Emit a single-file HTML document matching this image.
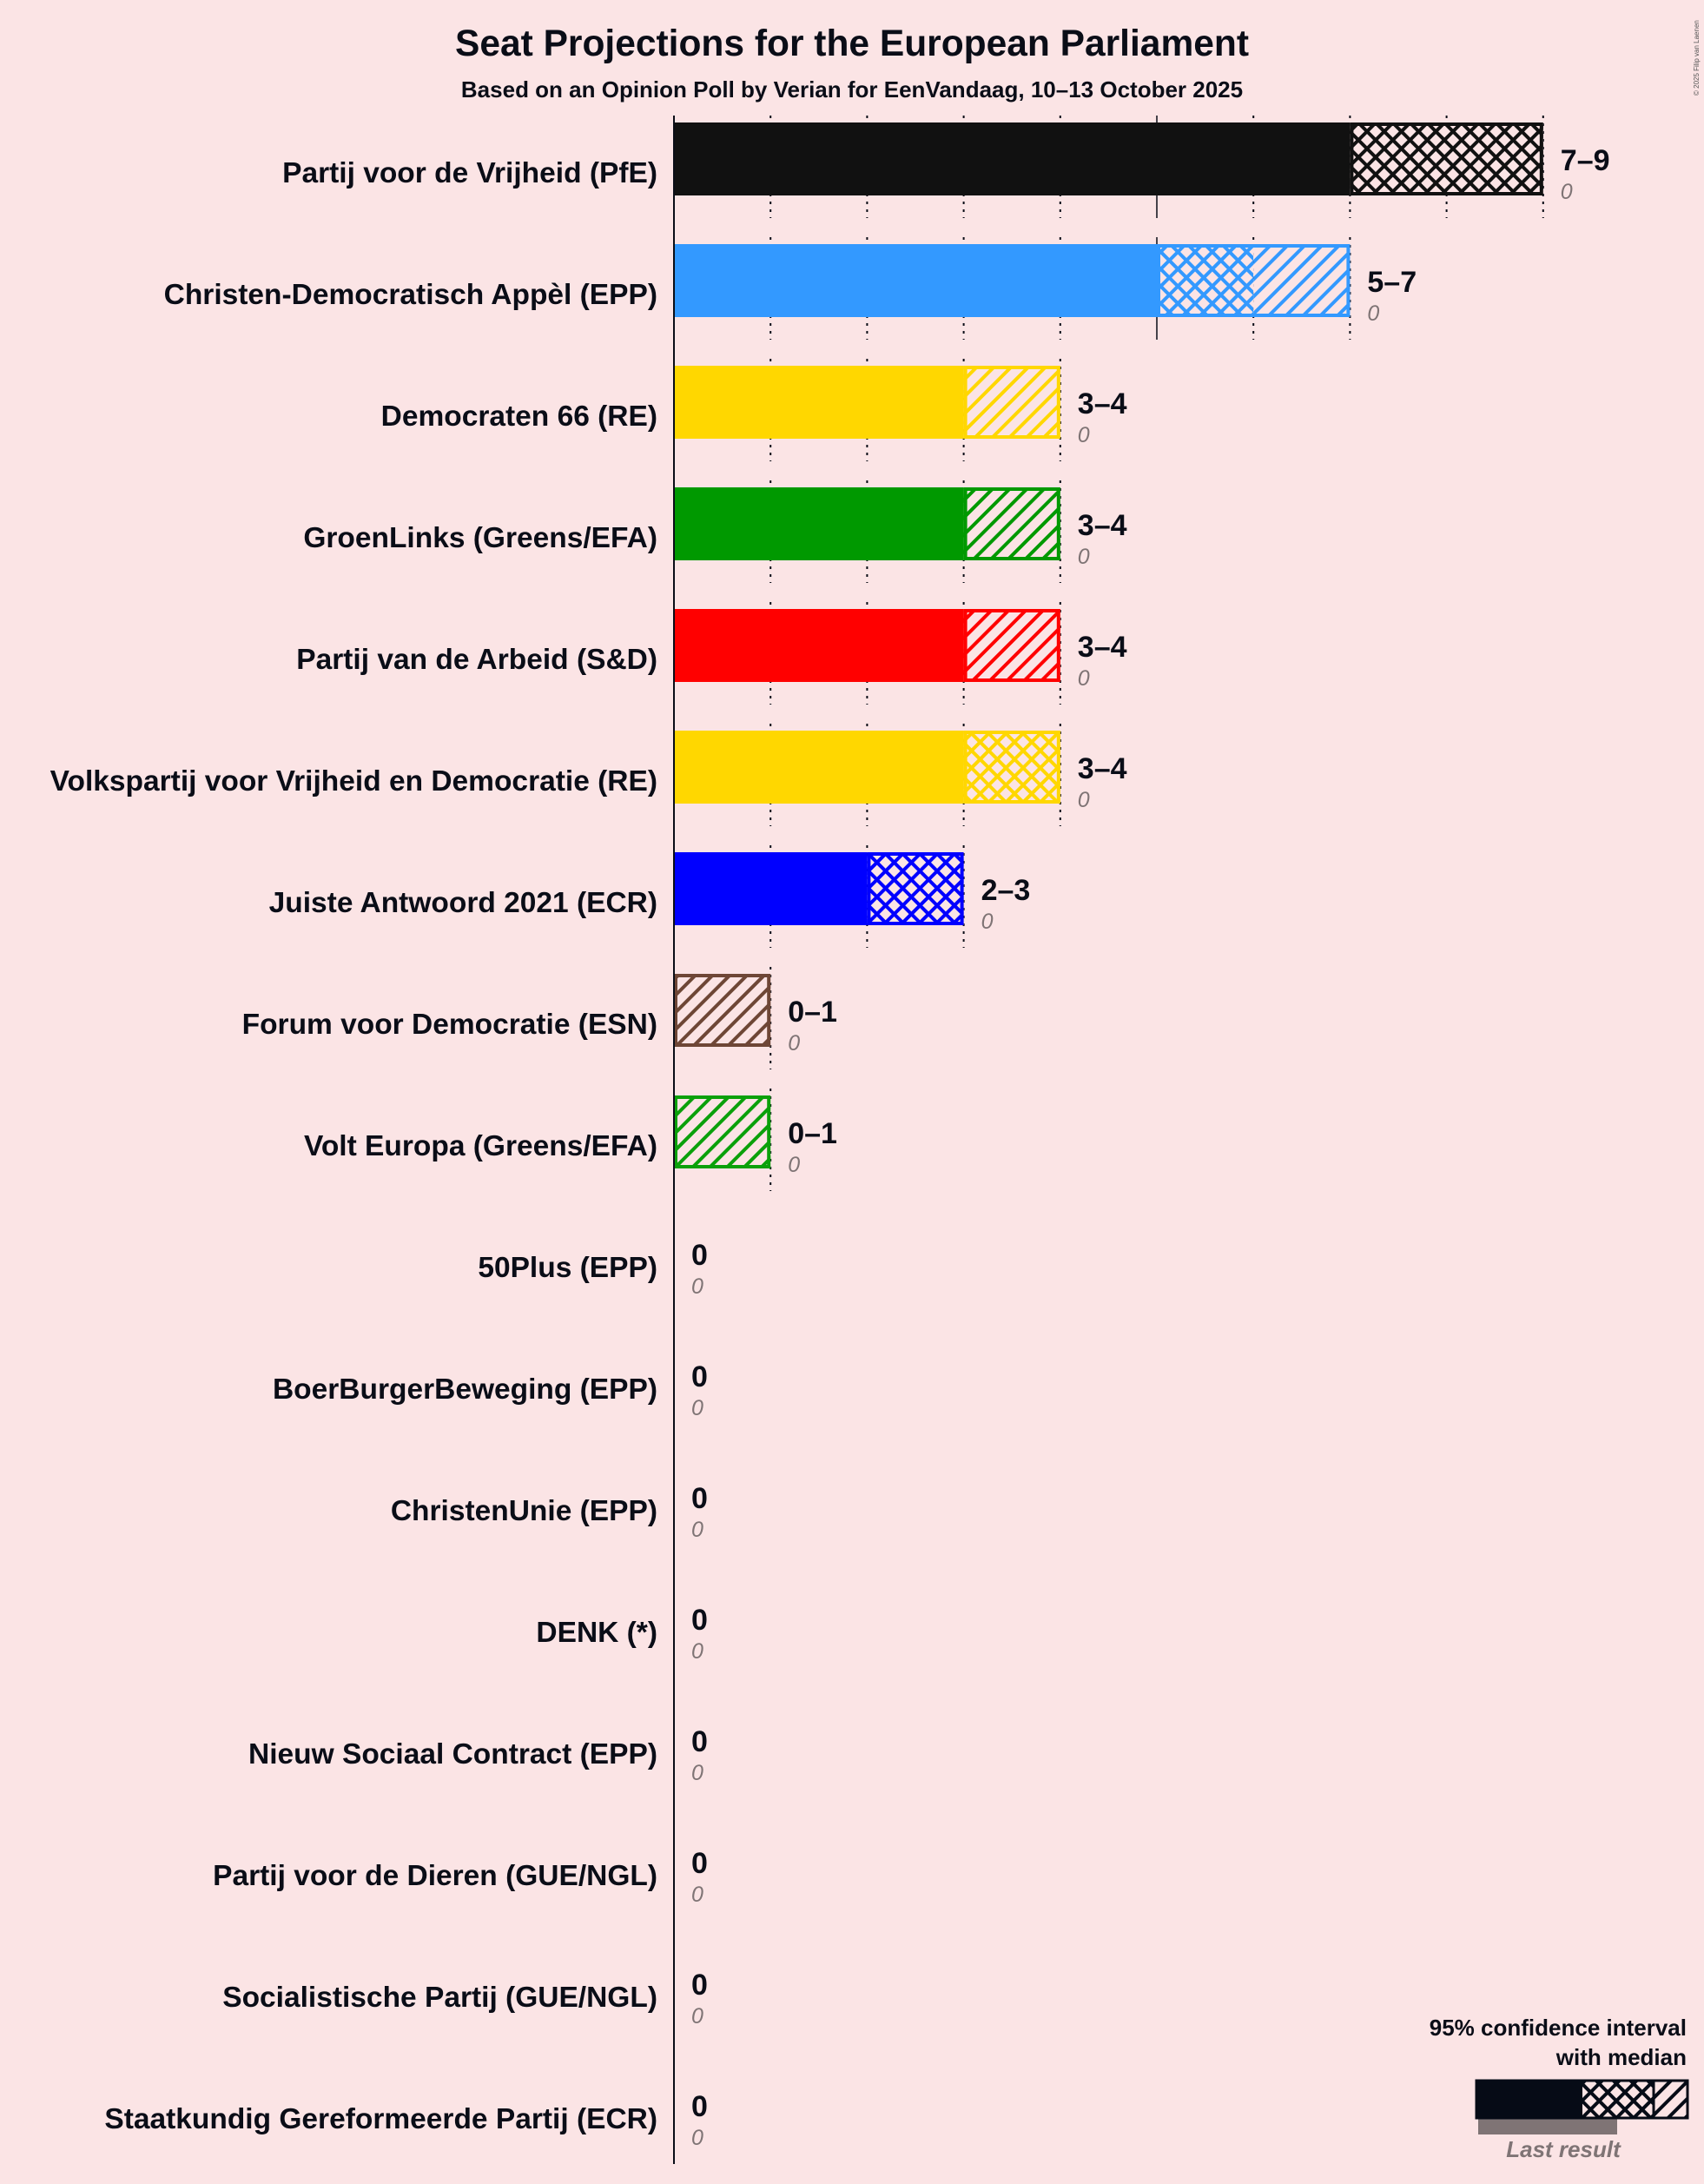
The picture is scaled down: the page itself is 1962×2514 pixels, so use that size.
<!DOCTYPE html>
<html><head><meta charset="utf-8">
<style>
html,body{margin:0;padding:0;background:#fbe4e5;}
svg{display:block;font-family:"Liberation Sans",sans-serif;}
</style></head>
<body>
<svg id="chart" width="1962" height="2514" viewBox="0 0 1962 2514" xmlns="http://www.w3.org/2000/svg">
<defs id="defs"></defs>
<rect width="1962" height="2514" fill="#fbe4e5"/>
<text x="981" y="64" text-anchor="middle" font-size="42.5" font-weight="bold" fill="#0a0d17">Seat Projections for the European Parliament</text>
<text x="981" y="112" text-anchor="middle" font-size="26" font-weight="bold" fill="#0a0d17">Based on an Opinion Poll by Verian for EenVandaag, 10–13 October 2025</text>
<text transform="translate(1956,110) rotate(-90)" font-size="8" fill="#555">© 2025 Filip van Laenen</text>
<g id="plot"></g>
<g>
<text x="1942" y="2343" text-anchor="end" font-size="26" font-weight="bold" fill="#0a0d17">95% confidence interval</text>
<text x="1942" y="2377" text-anchor="end" font-size="26" font-weight="bold" fill="#0a0d17">with median</text>
<rect x="1702" y="2439" width="160" height="18" fill="#7f7475"/>
<rect x="1699" y="2394" width="123" height="45" fill="#060b16"/>
<rect x="1822" y="2396" width="82" height="41" fill="url(#cross-060b16)"/>
<rect x="1904" y="2396" width="38" height="41" fill="url(#diag-060b16)"/>
<line x1="1904" y1="2395" x2="1904" y2="2438" stroke="#060b16" stroke-width="3"/>
<rect x="1700" y="2395" width="243" height="43" fill="none" stroke="#060b16" stroke-width="3"/>
<text x="1800" y="2483" text-anchor="middle" font-size="26" font-style="italic" font-weight="bold" fill="#7f7475">Last result</text>
</g>
</svg>
<script>
const parties = ["Partij voor de Vrijheid (PfE)","Christen-Democratisch Appèl (EPP)","Democraten 66 (RE)","GroenLinks (Greens/EFA)","Partij van de Arbeid (S&D)","Volkspartij voor Vrijheid en Democratie (RE)","Juiste Antwoord 2021 (ECR)","Forum voor Democratie (ESN)","Volt Europa (Greens/EFA)","50Plus (EPP)","BoerBurgerBeweging (EPP)","ChristenUnie (EPP)","DENK (*)","Nieuw Sociaal Contract (EPP)","Partij voor de Dieren (GUE/NGL)","Socialistische Partij (GUE/NGL)","Staatkundig Gereformeerde Partij (ECR)"];
const lows    = [7,5,3,3,3,3,2,0,0,0,0,0,0,0,0,0,0];
const medians = [9,6,3,3,3,4,3,0,0,0,0,0,0,0,0,0,0];
const highs   = [9,7,4,4,4,4,3,1,1,0,0,0,0,0,0,0,0];
const lastResults = [0,0,0,0,0,0,0,0,0,0,0,0,0,0,0,0,0];
const colors = ["#111111","#3399ff","#ffd700","#009900","#ff0000","#ffd700","#0000ff","#6e4636","#0aa00a","#888","#888","#888","#888","#888","#888","#888","#888"];

const NS="http://www.w3.org/2000/svg";
const x0=776, seatW=111.2, rowTop=141, rowH=140, barH=84;
const xs=v=>x0+v*seatW;
const ys=i=>rowTop+i*rowH;
const defs=document.getElementById('defs');
const plot=document.getElementById('plot');
function mk(tag,attrs,parent){const e=document.createElementNS(NS,tag);for(const k in attrs)e.setAttribute(k,attrs[k]);(parent||plot).appendChild(e);return e;}
const made={};
function patterns(c){
  const id=c.replace('#','');
  if(made[id])return id;made[id]=1;
  const d=mk('pattern',{id:'diag-'+id,patternUnits:'userSpaceOnUse',width:14,height:14,patternTransform:'rotate(45)'},defs);
  mk('rect',{width:14,height:14,fill:'#fbe4e5'},d);
  mk('rect',{x:0,y:0,width:4,height:14,fill:c},d);
  const x=mk('pattern',{id:'cross-'+id,patternUnits:'userSpaceOnUse',width:14,height:14,patternTransform:'rotate(45)'},defs);
  mk('rect',{width:14,height:14,fill:'#fbe4e5'},x);
  mk('rect',{x:0,y:0,width:4,height:14,fill:c},x);
  mk('rect',{x:0,y:0,width:14,height:4,fill:c},x);
  return id;
}
patterns('#060b16');

parties.forEach((p,i)=>{
  const top=ys(i), c=colors[i], id=patterns(c);
  const g=mk('g',{});
  
  
  for(let t=1;t<=highs[i];t++){
    const solid=(t===5);
    const ln=mk('line',{x1:xs(t),x2:xs(t),y1:top-8,y2:top+barH+26,stroke:'#0a0d17','stroke-width':solid?1.5:2,'stroke-dasharray':solid?'none':'3,6'},g);
    
    
  }
  if(lows[i]>0){
    const r=mk('rect',{x:xs(0),y:top,width:xs(lows[i])-xs(0),height:barH,fill:c},g);
    
    
  }
  if(medians[i]>lows[i]){
    const r=mk('rect',{x:xs(lows[i]),y:top,width:xs(medians[i])-xs(lows[i]),height:barH,fill:'url(#cross-'+id+')'},g);
    
    
  }
  if(highs[i]>medians[i]){
    const r=mk('rect',{x:xs(medians[i]),y:top,width:xs(highs[i])-xs(medians[i]),height:barH,fill:'url(#diag-'+id+')'},g);
    
    
  }
  if(highs[i]>lows[i]){
    const o=mk('rect',{x:xs(lows[i])+2,y:top+2,width:xs(highs[i])-xs(lows[i])-4,height:barH-4,fill:'none',stroke:c,'stroke-width':4},g);
    
    
  }
  const lb=mk('text',{x:757,y:top+69,'text-anchor':'end','font-size':33.5,'font-weight':'bold',fill:'#0a0d17'},g);
  lb.textContent=p;
  
  
  const tx=xs(highs[i])+20;
  const rl=mk('text',{x:tx,y:top+55,'font-size':34,'font-weight':'bold',fill:'#0a0d17'},g);
  rl.textContent=lows[i]===highs[i]?String(lows[i]):lows[i]+'–'+highs[i];
  
  
  const ll=mk('text',{x:tx,y:top+88,'font-size':25,'font-style':'italic',fill:'#7f7475'},g);
  ll.textContent=String(lastResults[i]);
  
  
});
const ax=mk('line',{x1:x0,x2:x0,y1:rowTop-8,y2:ys(parties.length-1)+barH+26,stroke:'#0a0d17','stroke-width':2});


</script>
</body></html>
